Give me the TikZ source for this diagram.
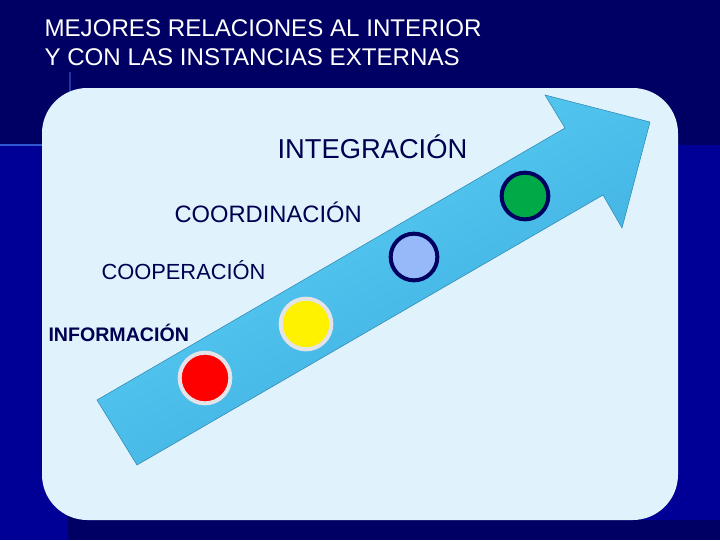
\documentclass[tikz,border=0pt]{standalone}
\usepackage{fontspec}
\setmainfont{Liberation Sans}
\definecolor{navydark}{RGB}{0,0,100}
\definecolor{navylight}{RGB}{0,0,150}
\definecolor{panelbg}{RGB}{224,243,252}
\definecolor{labelblue}{RGB}{0,0,80}
\definecolor{arrowtop}{RGB}{92,210,246}
\definecolor{arrowbot}{RGB}{60,170,222}
\definecolor{glow}{RGB}{60,110,230}
\definecolor{ringnavy}{RGB}{0,0,96}
\definecolor{ringgray}{RGB}{228,228,232}
\definecolor{dotlavender}{RGB}{150,185,250}
\definecolor{dotgreen}{RGB}{0,170,70}

\tikzset{every picture/.style={line width=0.75pt}}
\tikzset{
  steplabel/.style={text=labelblue, inner sep=0pt, anchor=west},
  dotgray/.style={circle, fill=#1, draw=ringgray, line width=3pt, minimum size=38pt, inner sep=0pt},
  dotnavy/.style={circle, fill=#1, draw=ringnavy, line width=3pt, minimum size=35pt, inner sep=0pt}
}

\begin{document}
\begin{tikzpicture}[x=0.75pt,y=0.75pt,yscale=-1,xscale=1]
	\useasboundingbox (0,0) rectangle (720,540);

	%Background
	\fill [navydark] (0,0) rectangle (720,540);
	\fill [navylight] (0,145) rectangle (68,540);
	\fill [navylight] (600,145) rectangle (720,520);
	%Glow lines
	\draw [glow, line width=1.5pt, opacity=0.8] (0,145) -- (45,145);
	\draw [glow, line width=1pt, opacity=0.5] (70,72) -- (70,98);

	%Panel
	\fill [panelbg, rounded corners=34pt] (42,88) rectangle (678,520);

	%Arrow
	\shade [top color=arrowtop, bottom color=arrowbot, shading angle=30, draw=arrowbot!80!black, line width=0.4pt]
	  (97,400) -- (565,128) -- (545,95) -- (650,122) -- (622,228) -- (603,195) -- (137,465) -- cycle;

	%Dots
	\node [dotgray=red] (info) at (205,378) {};
	\node [dotgray=yellow] (coop) at (306,324) {};
	\node [dotnavy=dotlavender] (coord) at (414,257) {};
	\node [dotnavy=dotgreen] (integ) at (525,196) {};

	% Title
	\node [text=white, anchor=west, align=left, inner sep=0pt, font=\fontsize{18.1}{21.75}\selectfont] (title) at (44,42.5)
	  {MEJORES RELACIONES AL INTERIOR\\Y CON LAS INSTANCIAS EXTERNAS};

	% Labels
	\node [steplabel, font=\fontsize{20.5}{24}\selectfont] (lblinteg) at (277,147) {INTEGRACIÓN};
	\node [steplabel, font=\fontsize{17.8}{21}\selectfont] (lblcoord) at (174,212) {COORDINACIÓN};
	\node [steplabel, font=\fontsize{16.4}{19}\selectfont] (lblcoop) at (101,270) {COOPERACIÓN};
	\node [steplabel, font=\bfseries\fontsize{14.7}{17}\selectfont] (lblinfo) at (48,333) {INFORMACIÓN};

\end{tikzpicture}
\end{document}
